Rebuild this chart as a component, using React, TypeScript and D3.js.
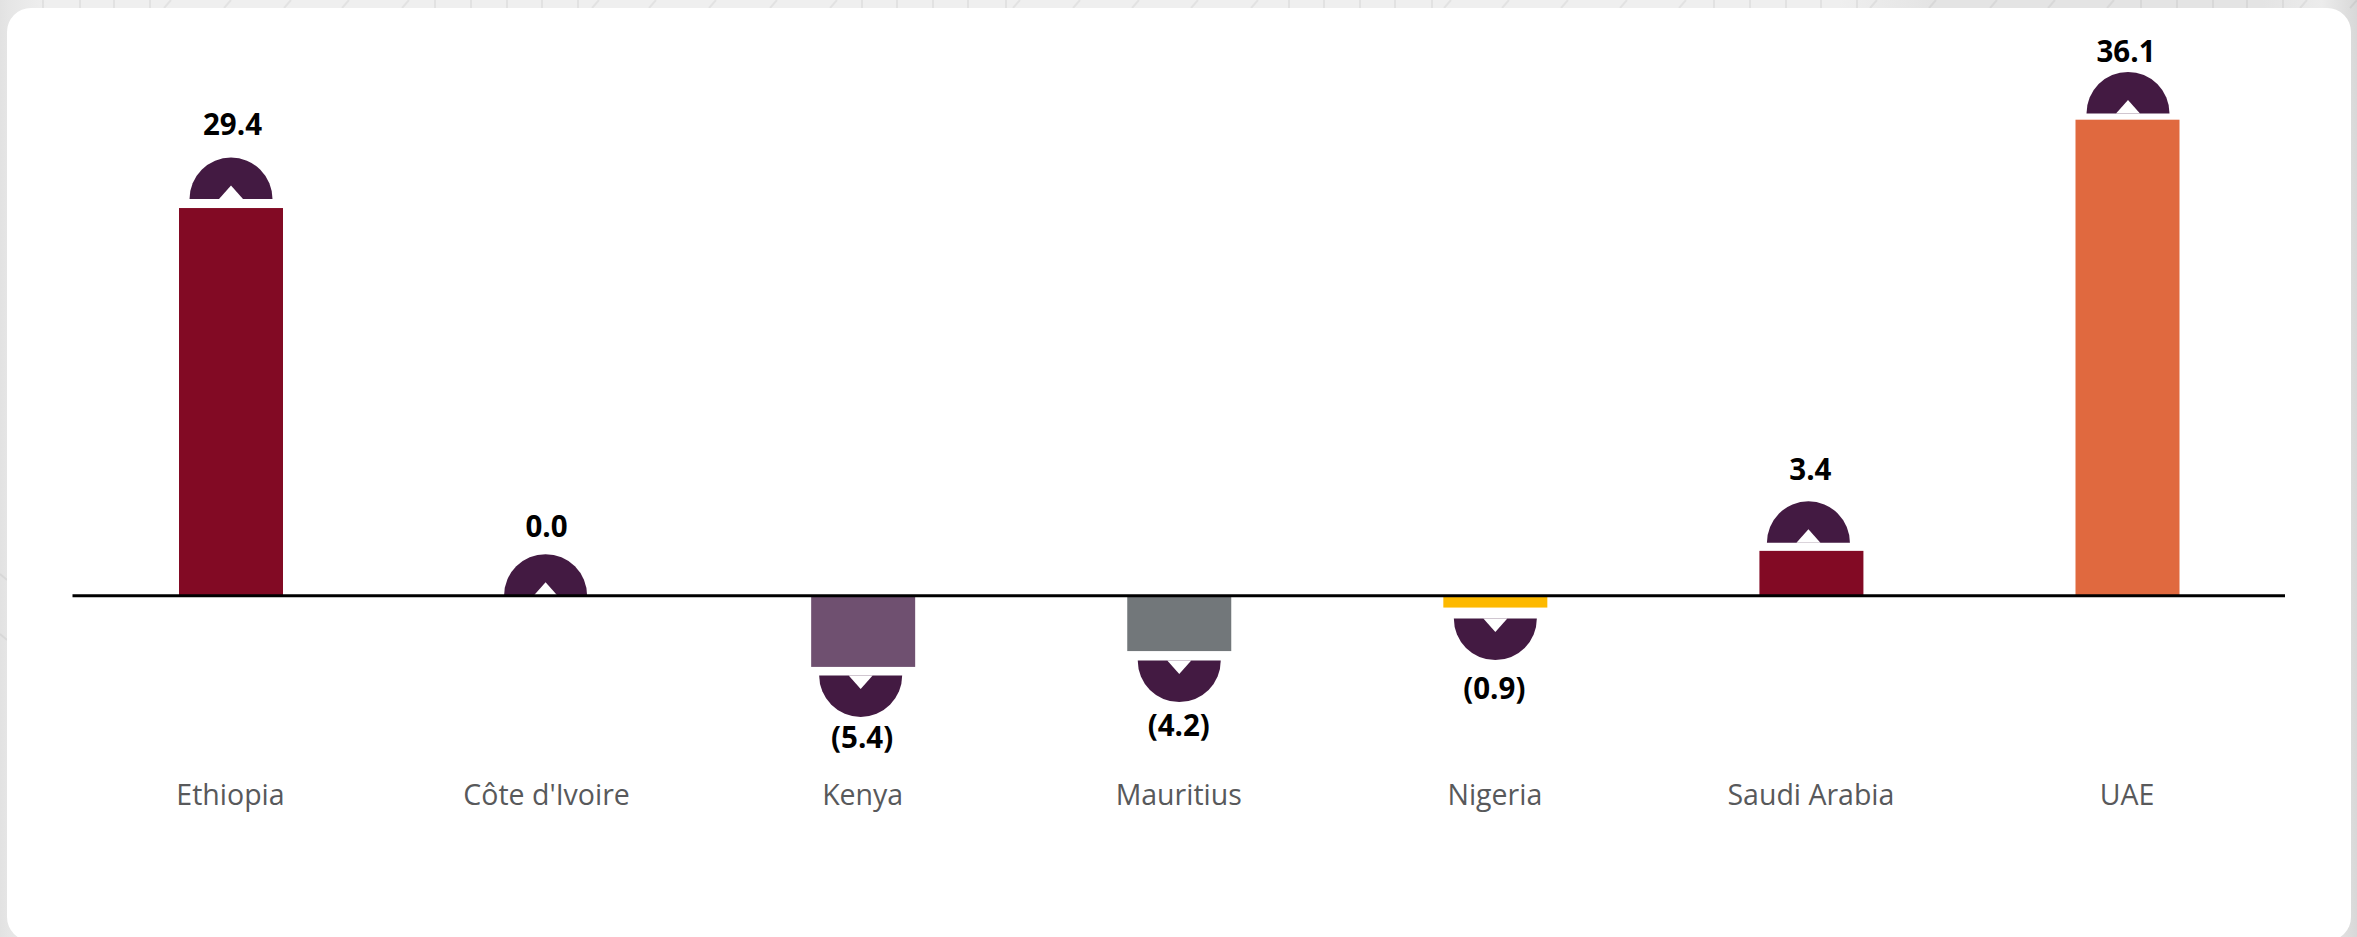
import React from "react";
import * as d3 from "d3";

const countries = ["Ethiopia", "Côte d'Ivoire", "Kenya", "Mauritius", "Nigeria", "Saudi Arabia", "UAE"];
const values = [29.4, 0.0, -5.4, -4.2, -0.9, 3.4, 36.1];
const barColors = ["#820a24", "#820a24", "#6f5070", "#72777a", "#fdb900", "#820a24", "#e0693f"];

// Hand-placed offsets for each country's marker and value label.
const domeGaps = [9, 0, 8.5, 9.5, 11, 8, 6.3];
const domeShifts = [0, -1.5, -2.5, 0, 0, -3, 0.5];
const labelGaps = [22.5, 17, 31, 34, 39, 21.5, 9.5];
const labelShifts = [1.5, -0.5, -1, -0.5, -1, -1, -1.5];

const W = 2357;
const H = 937;
const DOME_R = 41.5;
const NOTCH_W = 12;
const NOTCH_H = 13.5;

const x = d3.scalePoint<string>().domain(countries).range([231, 2127.5]);
const y = d3.scaleLinear().domain([0, 36.1]).range([595.7, 119.7]);

const arcPath = d3.arc();

const fmt = (v: number) => (v < 0 ? `(${d3.format(".1f")(-v)})` : d3.format(".1f")(v));

// Faint page texture showing around the card.
const topVerticals = [43, 80, 114, 150, 435, 471, 507, 542, 578, 862, 897, 933, 968, 1006, 1289, 1324, 1360, 1395, 1432, 1714, 1750, 1786, 1821, 1857, 2141, 2177, 2213, 2247, 2283];
const topDiagonals = [164, 224, 284, 342, 402, 592, 649, 709, 770, 830, 1013, 1073, 1132, 1191, 1251, 1444, 1502, 1561, 1620, 1679, 1870, 1929, 1990, 2048, 2107, 2300, 2350];
const leftDiagonals = [580, 640];

function Marker({ cx, base, up }: { cx: number; base: number; up: boolean }) {
  const dome = arcPath({
    innerRadius: 0,
    outerRadius: DOME_R,
    startAngle: up ? -Math.PI / 2 : Math.PI / 2,
    endAngle: up ? Math.PI / 2 : (3 * Math.PI) / 2,
  }) as string;
  const s = up ? -1 : 1;
  const notch = d3.line()([
    [-NOTCH_W, 0],
    [0, s * NOTCH_H],
    [NOTCH_W, 0],
  ]) + "Z";
  return (
    <g transform={`translate(${cx},${base})`}>
      <path d={dome} fill="#431a42" />
      <path d={notch} fill="#fff" />
    </g>
  );
}

export default function App() {
  const font = "'Open Sans', 'Noto Sans', sans-serif";
  return (
    <svg
      width={W}
      height={H}
      viewBox={`0 0 ${W} ${H}`}
      style={{ position: "fixed", left: 0, top: 0, display: "block" }}
    >
      <defs>
        <linearGradient id="page" x1="0" x2="1" y1="0" y2="0">
          <stop offset="0" stopColor="#e2e2e2" />
          <stop offset="0.004" stopColor="#e6e6e6" />
          <stop offset="0.02" stopColor="#efefef" />
          <stop offset="0.78" stopColor="#efefef" />
          <stop offset="0.82" stopColor="#e4e4e4" />
          <stop offset="0.96" stopColor="#e4e4e4" />
          <stop offset="0.985" stopColor="#ececec" />
          <stop offset="1" stopColor="#d8d8d8" />
        </linearGradient>
      </defs>
      <rect width={W} height={H} fill="url(#page)" />
      <g stroke="#000" strokeOpacity={0.05} strokeWidth={2} fill="none">
        {topVerticals.map((v) => (
          <line key={`v${v}`} x1={v} x2={v} y1={0} y2={8} />
        ))}
        {topDiagonals.map((d) => (
          <line key={`d${d}`} x1={d} x2={d + 7} y1={8} y2={0} />
        ))}
        {leftDiagonals.map((d) => (
          <line key={`l${d}`} x1={0} x2={7} y1={d - 6} y2={d} />
        ))}
      </g>
      <rect x={7} y={8} width={2344} height={933} rx={24} fill="#fff" />

      {countries.map((c, i) => {
        const v = values[i];
        const cx = x(c)!;
        const top = Math.min(y(v), y(0));
        const h = Math.abs(y(v) - y(0));
        const up = v >= 0;
        const edge = up ? top : top + h;
        const base = up ? edge - domeGaps[i] : edge + domeGaps[i];
        const labelY = up ? base - DOME_R - labelGaps[i] : base + DOME_R + labelGaps[i];
        return (
          <g key={c}>
            <rect x={cx - 52} y={top} width={104} height={h} fill={barColors[i]} />
            <Marker cx={cx + domeShifts[i]} base={base} up={up} />
            <text
              x={cx + labelShifts[i]}
              y={labelY}
              textAnchor="middle"
              fontFamily={font}
              fontWeight={700}
              fontSize={29.5}
              fill="#000"
            >
              {fmt(v)}
            </text>
            <text
              x={cx - 0.5}
              y={805}
              textAnchor="middle"
              fontFamily={font}
              fontSize={28.5}
              fill="#58595b"
            >
              {c}
            </text>
          </g>
        );
      })}
      <line x1={72.5} x2={2285} y1={y(0)} y2={y(0)} stroke="#000" strokeWidth={3} />
    </svg>
  );
}
